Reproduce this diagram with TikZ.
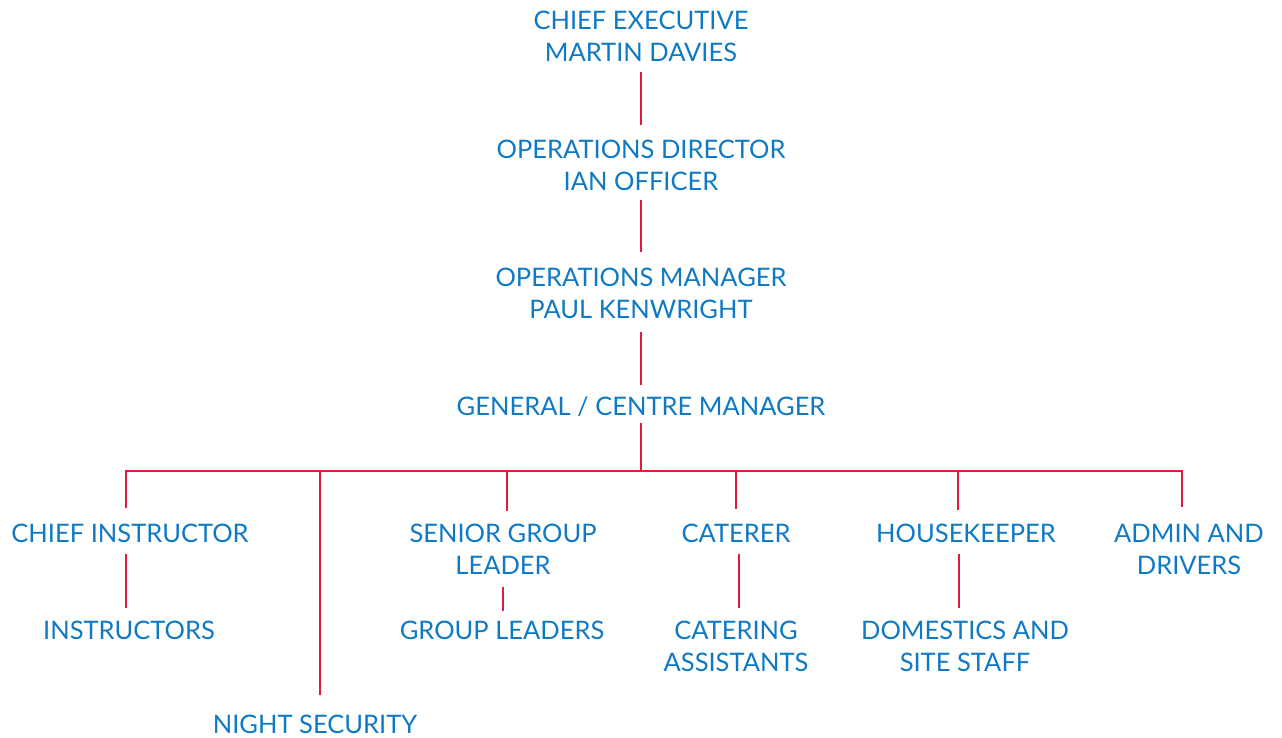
\documentclass[tikz,border=0pt]{standalone}
\usepackage{fontspec}
\setmainfont{Lato}
\definecolor{orgblue}{RGB}{16,121,196}
\definecolor{orgred}{RGB}{226,26,60}
\begin{document}
\begin{tikzpicture}[x=1pt,y=-1pt,
  role/.style={anchor=north,inner sep=0pt,outer sep=0pt,align=center,
    text=orgblue,font=\fontsize{25.5}{32.5}\selectfont},
  link/.style={draw=orgred,line width=2.8pt}]
\useasboundingbox (0,0) rectangle (1282,738);

% management chain
\node[role] (ce) at (641,11)  {CHIEF EXECUTIVE\\MARTIN DAVIES};
\node[role] (od) at (641,140) {OPERATIONS DIRECTOR\\IAN OFFICER};
\node[role] (om) at (641,268) {OPERATIONS MANAGER\\PAUL KENWRIGHT};
\node[role] (gm) at (641,397) {GENERAL / CENTRE MANAGER};

% departments
\node[role] (ci)  at (130,524)  {CHIEF INSTRUCTOR};
\node[role] (in)  at (129,621)  {INSTRUCTORS};
\node[role] (ns)  at (315,715)  {NIGHT SECURITY};
\node[role] (sgl) at (503,524)  {SENIOR GROUP\\LEADER};
\node[role] (gl)  at (502,621)  {GROUP LEADERS};
\node[role] (cat) at (736,524)  {CATERER};
\node[role] (ca)  at (736,621)  {CATERING\\ASSISTANTS};
\node[role] (hk)  at (966,524)  {HOUSEKEEPER};
\node[role] (ds)  at (965,621)  {DOMESTICS AND\\SITE STAFF};
\node[role] (ad)  at (1189,524) {ADMIN AND\\DRIVERS};

% junctions on the distribution bar
\coordinate (hub)  at (641,471);
\coordinate (bci)  at (126,471);
\coordinate (bns)  at (320,471);
\coordinate (bsgl) at (507,471);
\coordinate (bcat) at (736,471);
\coordinate (bhk)  at (958,471);
\coordinate (bad)  at (1182,471);

% chain links
\draw[link,shorten <=10pt,shorten >=15pt] (ce.south) -- (od.north);
\draw[link,shorten <=9pt,shorten >=16pt] (od.south) -- (om.north);
\draw[link,shorten <=13pt,shorten >=12pt] (om.south) -- (gm.north);
\draw[link,shorten <=6pt] (gm.south) -- (hub);

% bar with its two end drops
\draw[link,shorten <=16pt,shorten >=17pt]
  (bci |- ci.north) -- (bci) -- (bad) -- (bad |- ad.north);
\draw[link,shorten >=20pt] (bns)  -- (bns |- ns.north);
\draw[link,shorten >=13pt] (bsgl) -- (bsgl |- sgl.north);
\draw[link,shorten >=15pt] (bcat) -- (bcat |- cat.north);
\draw[link,shorten >=14pt] (bhk)  -- (bhk |- hk.north);

% second-level links
\draw[link,shorten <=11pt,shorten >=13pt] (bci |- ci.south) -- (bci |- in.north);
\draw[link,shorten <=12pt,shorten >=10pt] (sgl.south) -- (sgl.south |- gl.north);
\draw[link,shorten <=11pt,shorten >=13pt] ([xshift=3pt]cat.south) -- ([xshift=3pt]cat.south |- ca.north);
\draw[link,shorten <=11pt,shorten >=13pt] ([xshift=-7pt]hk.south) -- ([xshift=-7pt]hk.south |- ds.north);
\end{tikzpicture}
\end{document}
